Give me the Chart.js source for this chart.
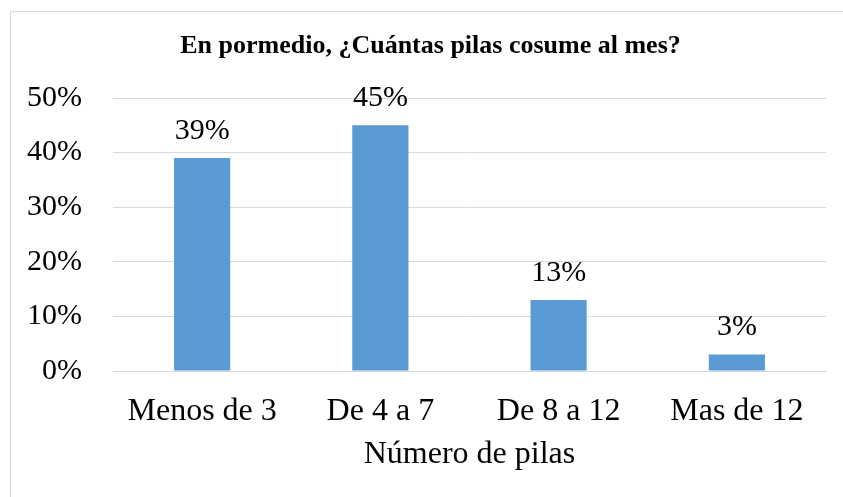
<!DOCTYPE html>
<html>
<head>
<meta charset="utf-8">
<script src="https://cdn.jsdelivr.net/npm/chart.js@4"></script>
<style>
  html, body { margin: 0; padding: 0; background: #fff; overflow: hidden; }
</style>
</head>
<body>
<canvas id="pilasChart" width="843" height="497"></canvas>
<script>
// Survey answers: batteries used per month
var categories = ['Menos de 3', 'De 4 a 7', 'De 8 a 12', 'Mas de 12'];
var percentages = [39, 45, 13, 3];
var yTicks = [0, 10, 20, 30, 40, 50];
var chartTitle = 'En pormedio, ¿Cuántas pilas cosume al mes?';

var serif = "'Liberation Serif', 'Times New Roman', serif";
Chart.defaults.color = '#000';
Chart.defaults.font.family = serif;

// Light grey frame and the bold heading, centred on the frame
var framePlugin = {
    id: 'frame',
    beforeDraw: function (chart) {
        var ctx = chart.ctx;
        ctx.save();
        ctx.fillStyle = '#fff';
        ctx.fillRect(0, 0, chart.width, chart.height);
        ctx.strokeStyle = '#d9d9d9';
        ctx.lineWidth = 1;
        ctx.strokeRect(10.5, 11.5, 840, 600);
        ctx.font = 'bold 26px ' + serif;
        ctx.fillStyle = '#000';
        ctx.textAlign = 'center';
        ctx.textBaseline = 'alphabetic';
        ctx.fillText(chartTitle, 430.5, 53);
        ctx.restore();
    }
};

// Percentage written above each bar
var valueLabels = {
    id: 'valueLabels',
    afterDatasetsDraw: function (chart) {
        var ctx = chart.ctx;
        var meta = chart.getDatasetMeta(0);
        ctx.save();
        ctx.font = '30px ' + serif;
        ctx.fillStyle = '#000';
        ctx.textAlign = 'center';
        ctx.textBaseline = 'middle';
        meta.data.forEach(function (bar, i) {
            ctx.fillText(percentages[i] + '%', bar.x, bar.y - 27);
        });
        ctx.restore();
    }
};

var ctx = document.getElementById('pilasChart').getContext('2d');
var chart = new Chart(ctx, {
    type: 'bar',
    data: {
        labels: categories,
        datasets: [{
            data: percentages,
            backgroundColor: '#5b9bd5',
            borderWidth: 0,
            categoryPercentage: 1,
            barPercentage: 0.315
        }]
    },
    options: {
        responsive: false,
        animation: false,
        layout: { padding: { left: 0, right: 17, top: 98, bottom: 0 } },
        plugins: {
            legend: { display: false },
            tooltip: { enabled: false },
            title: { display: false }
        },
        scales: {
            x: {
                grid: { display: false },
                border: { display: true, color: '#d9d9d9', width: 1 },
                ticks: { font: { size: 32 }, padding: 13, maxRotation: 0 },
                title: {
                    display: true,
                    text: 'Número de pilas',
                    font: { size: 32 },
                    padding: { top: 4, bottom: 23 }
                },
                afterFit: function (scale) { scale.height = 126; }
            },
            y: {
                min: 0,
                max: 50,
                afterBuildTicks: function (scale) {
                    scale.ticks = yTicks.map(function (v) { return { value: v }; });
                },
                grid: { color: '#d9d9d9', drawTicks: false },
                border: { display: false },
                ticks: {
                    font: { size: 30 },
                    padding: 31,
                    callback: function (v) { return v + '%'; }
                },
                afterFit: function (scale) { scale.width = 113; }
            }
        }
    },
    plugins: [framePlugin, valueLabels]
});
</script>
</body>
</html>
